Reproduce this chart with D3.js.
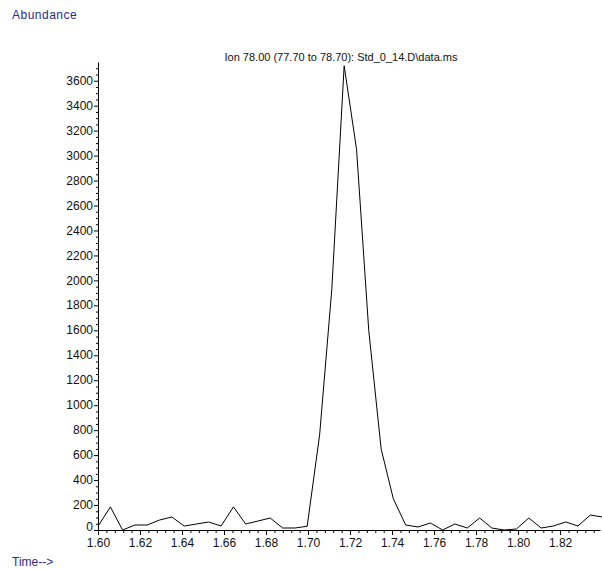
<!DOCTYPE html>
<html>
<head>
<meta charset="utf-8">
<script src="https://cdn.jsdelivr.net/npm/d3@7"></script>
<style>
	body { margin: 0; background: #fff; }
	text { font-family: "Liberation Sans", Arial, sans-serif; }
	.lbl { fill: #2a2a8f; font-size: 12px; }
	.tick text { font-size: 12px; fill: #111; }
</style>
</head>
<body>
<script>
// retention times (min) of each scan
const times = [1.6000, 1.6059, 1.6117, 1.6176, 1.6234, 1.6293, 1.6352, 1.6410, 1.6469, 1.6527,
	1.6586, 1.6645, 1.6703, 1.6762, 1.6820, 1.6879, 1.6938, 1.6996, 1.7055, 1.7113,
	1.7172, 1.7231, 1.7289, 1.7348, 1.7406, 1.7465, 1.7524, 1.7582, 1.7641, 1.7699,
	1.7758, 1.7817, 1.7875, 1.7934, 1.7992, 1.8051, 1.8110, 1.8168, 1.8227, 1.8285,
	1.8344, 1.8403];
// abundance for ion 78
const abundance = [30, 185, 0, 40, 40, 80, 104, 32, 48, 64,
	32, 185, 48, 72, 96, 16, 16, 30, 760, 1925,
	3720, 3050, 1600, 650, 250, 40, 24, 56, 0, 48,
	16, 96, 16, 0, 8, 96, 16, 32, 64, 32,
	120, 104];

const xTicks = [1.60, 1.62, 1.64, 1.66, 1.68, 1.70, 1.72, 1.74, 1.76, 1.78, 1.80, 1.82];
const yTicks = d3.range(0, 3601, 200);

const title = "Ion  78.00 (77.70 to 78.70): Std_0_14.D\\data.ms";

const width = 602, height = 569;

const x = d3.scaleLinear().domain([1.6, 1.839]).range([98, 600]);
const y = d3.scaleLinear().domain([0, 3750]).range([530, 62]);

const svg = d3.select("body").append("svg")
	.attr("width", width)
	.attr("height", height);

// minor ticks
const xMinor = d3.range(1.6, 1.839, 0.004).filter(v => Math.abs(v * 50 - Math.round(v * 50)) > 1e-6);
svg.append("g")
	.attr("transform", "translate(0,530)")
	.call(d3.axisBottom(x).tickValues(xMinor).tickSize(3).tickFormat(""))
	.call(g => g.select(".domain").remove())
	.selectAll("line").attr("stroke", "#000");

const yMinor = d3.range(50, 3750, 50).filter(v => v % 200 != 0);
svg.append("g")
	.attr("transform", "translate(98,0)")
	.call(d3.axisLeft(y).tickValues(yMinor).tickSize(2).tickFormat(""))
	.call(g => g.select(".domain").remove())
	.selectAll("line").attr("stroke", "#000");

// major axes
svg.append("g")
	.attr("transform", "translate(0,530)")
	.call(d3.axisBottom(x).tickValues(xTicks).tickSize(5).tickSizeOuter(0).tickPadding(3).tickFormat(d3.format(".2f")))
	.call(g => g.selectAll("line, .domain").attr("stroke", "#000"));

svg.append("g")
	.attr("transform", "translate(98,0)")
	.call(d3.axisLeft(y).tickValues(yTicks).tickSize(4).tickSizeOuter(0).tickPadding(1).tickFormat(d3.format("d")))
	.call(g => g.selectAll("line, .domain").attr("stroke", "#000"))
	.selectAll(".tick text").attr("dy", d => d == 0 ? "0.05em" : "0.3em");

// trace
const line = d3.line()
	.x((d, i) => x(times[i]))
	.y(d => y(d));

svg.append("path")
	.datum(abundance)
	.attr("fill", "none")
	.attr("stroke", "#000")
	.attr("stroke-width", 1)
	.attr("d", line);

// texts
svg.append("text")
	.attr("x", 341).attr("y", 61)
	.attr("text-anchor", "middle")
	.style("font-size", "11px")
	.attr("fill", "#111")
	.text(title);

svg.append("text").classed("lbl", true)
	.attr("x", 12).attr("y", 19)
	.style("letter-spacing", "0.5px")
	.text("Abundance");

svg.append("text").classed("lbl", true)
	.attr("x", 12).attr("y", 566)
	.text("Time-->");
</script>
</body>
</html>
